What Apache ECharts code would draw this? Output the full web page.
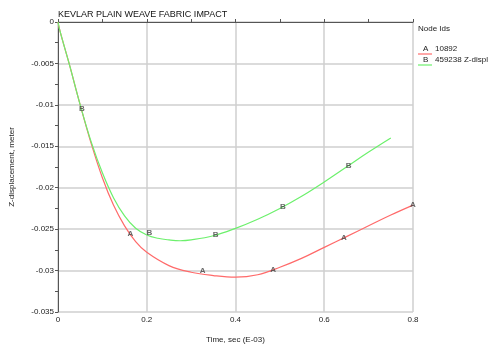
<!DOCTYPE html>
<html>
<head>
<meta charset="utf-8">
<script src="https://cdn.jsdelivr.net/npm/echarts@6/dist/echarts.min.js"></script>
<style>
  html, body { margin: 0; padding: 0; background: #fff; }
  #chart { width: 488px; height: 353px; }
</style>
</head>
<body>
<div id="chart"></div>
<script>
// Curve A (node 10892)
const timeA = [0, 0.005, 0.025, 0.05, 0.075, 0.1, 0.125, 0.15, 0.175, 0.2, 0.25, 0.3, 0.35, 0.4, 0.45, 0.5, 0.55, 0.6, 0.65, 0.7, 0.75, 0.8];
const dispA = [0, -0.0012, -0.005, -0.0100, -0.0147, -0.0188, -0.0221, -0.0246, -0.0265, -0.0278, -0.0294, -0.0302, -0.0306, -0.0308, -0.0305, -0.0296, -0.0285, -0.0272, -0.0259, -0.0246, -0.0233, -0.0221];

// Curve B (node 459238)
const timeB = [0, 0.005, 0.025, 0.05, 0.075, 0.1, 0.125, 0.15, 0.175, 0.2, 0.225, 0.25, 0.275, 0.3, 0.35, 0.4, 0.45, 0.5, 0.55, 0.6, 0.65, 0.7, 0.75];
const dispB = [0, -0.0012, -0.005, -0.0100, -0.0145, -0.0182, -0.0212, -0.0234, -0.0249, -0.0257, -0.0261, -0.0263, -0.0264, -0.0263, -0.0258, -0.0249, -0.0238, -0.0225, -0.0210, -0.0193, -0.0175, -0.0157, -0.0140];

// letter markers along the curves
const markA = [[0.163, -0.0256], [0.326, -0.0300], [0.485, -0.0299], [0.644, -0.0261], [0.8, -0.0221]];
const markB = [[0.054, -0.0105], [0.206, -0.0254], [0.355, -0.0257], [0.507, -0.0223], [0.655, -0.0173]];

const legendTitle = 'Node Ids';
const legendA = '10892';
const legendB = '459238 Z-displacement';

const colorA = '#ff6a6a';
const colorB = '#6cf06c';
const font = 'Liberation Sans, Arial, sans-serif';

function zip(xs, ys) {
  return xs.map((x, i) => [x, ys[i]]);
}

function letterSeries(name, data) {
  return {
    type: 'scatter',
    data: data,
    symbolSize: 1,
    itemStyle: { color: 'transparent' },
    label: {
      show: true,
      position: 'inside',
      formatter: name,
      fontSize: 8,
      fontWeight: 'bold',
      fontFamily: font,
      color: '#444'
    },
    z: 5,
    silent: true
  };
}

const chart = echarts.init(document.getElementById('chart'));

chart.setOption({
  animation: false,
  title: {
    text: 'KEVLAR PLAIN WEAVE FABRIC IMPACT',
    left: 53,
    top: 5,
    textStyle: { fontSize: 9, fontWeight: 'normal', color: '#111', fontFamily: font }
  },
  grid: { left: 55, right: 75, top: 22, bottom: 41 },
  xAxis: {
    type: 'value',
    min: 0,
    max: 0.8,
    interval: 0.2,
    name: 'Time, sec (E-03)',
    nameLocation: 'middle',
    nameGap: 24,
    nameTextStyle: { fontSize: 8, color: '#222', fontFamily: font },
    axisLine: { lineStyle: { color: '#555', width: 1 } },
    axisTick: { show: true, inside: true, length: 3, lineStyle: { color: '#555' } },
    minorTick: { show: true, splitNumber: 2, length: 3, lineStyle: { color: '#555' } },
    axisLabel: { fontSize: 8, color: '#222', fontFamily: font, margin: 4, formatter: v => String(+v.toFixed(1)) },
    splitLine: { show: true, lineStyle: { color: '#cfcfcf', width: 1.5 } }
  },
  yAxis: {
    type: 'value',
    min: -0.035,
    max: 0,
    interval: 0.005,
    name: 'Z-displacement, meter',
    nameLocation: 'middle',
    nameGap: 42,
    nameTextStyle: { fontSize: 8, color: '#222', fontFamily: font },
    axisLine: { show: true, lineStyle: { color: '#555', width: 1 } },
    axisTick: { show: true, length: 3, lineStyle: { color: '#555' } },
    minorTick: { show: true, splitNumber: 2, length: 3, lineStyle: { color: '#555' } },
    axisLabel: { fontSize: 8, color: '#222', fontFamily: font, margin: 4, formatter: v => String(+v.toFixed(3)) },
    splitLine: { show: true, lineStyle: { color: '#cfcfcf', width: 1.5 } }
  },
  series: [
    {
      type: 'line',
      data: zip(timeA, dispA),
      smooth: 0.4,
      showSymbol: false,
      lineStyle: { color: colorA, width: 1.2 },
      z: 3
    },
    {
      type: 'line',
      data: zip(timeB, dispB),
      smooth: 0.4,
      showSymbol: false,
      lineStyle: { color: colorB, width: 1.2 },
      z: 4
    },
    letterSeries('A', markA),
    letterSeries('B', markB)
  ],
  graphic: [
    { type: 'text', left: 418, top: 25, style: { text: legendTitle, fontSize: 8, fill: '#222', fontFamily: font } },
    { type: 'text', left: 423, top: 45, style: { text: 'A', fontSize: 8, fill: '#222', fontFamily: font } },
    { type: 'line', shape: { x1: 418, y1: 54, x2: 432, y2: 54 }, style: { stroke: colorA, lineWidth: 1.2 } },
    { type: 'text', left: 435, top: 45, style: { text: legendA, fontSize: 8, fill: '#222', fontFamily: font } },
    { type: 'text', left: 423, top: 56, style: { text: 'B', fontSize: 8, fill: '#222', fontFamily: font } },
    { type: 'line', shape: { x1: 418, y1: 65, x2: 432, y2: 65 }, style: { stroke: colorB, lineWidth: 1.2 } },
    { type: 'text', left: 435, top: 56, style: { text: legendB, fontSize: 8, fill: '#222', fontFamily: font } }
  ]
});
</script>
</body>
</html>
